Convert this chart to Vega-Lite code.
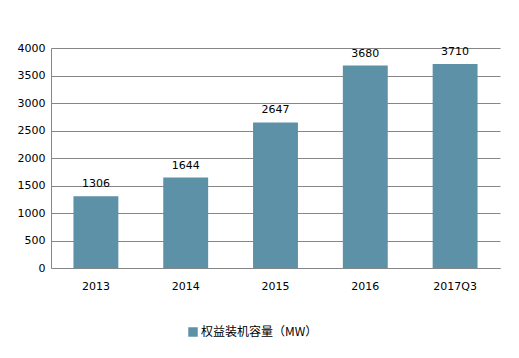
{
  "$schema": "https://vega.github.io/schema/vega-lite/v6.json",
  "autosize": "none",
  "width": 449,
  "height": 220,
  "padding": {"left": 51, "top": 48, "right": 19, "bottom": 90},
  "background": "white",
  "config": {
    "view": {"stroke": null},
    "font": "DejaVu Sans, Noto Sans CJK SC"
  },
  "data": {
    "values": [
      {"year": "2013", "value": 1306, "series": "权益装机容量（MW）"},
      {"year": "2014", "value": 1644, "series": "权益装机容量（MW）"},
      {"year": "2015", "value": 2647, "series": "权益装机容量（MW）"},
      {"year": "2016", "value": 3680, "series": "权益装机容量（MW）"},
      {"year": "2017Q3", "value": 3710, "series": "权益装机容量（MW）"}
    ]
  },
  "encoding": {
    "x": {
      "field": "year", "type": "nominal", "sort": null,
      "scale": {"paddingInner": 0.5, "paddingOuter": 0.25},
      "axis": {
        "title": null, "labelAngle": 0, "ticks": false, "domainColor": "#868686",
        "labelFontSize": 11, "labelColor": "#000000", "labelPadding": 12,
        "labelFont": "DejaVu Sans"
      }
    },
    "y": {
      "field": "value", "type": "quantitative",
      "scale": {"domain": [0, 4000]},
      "axis": {
        "title": null, "values": [0, 500, 1000, 1500, 2000, 2500, 3000, 3500, 4000],
        "format": "d",
        "ticks": false, "domain": true, "domainColor": "#868686",
        "gridColor": "#868686", "gridWidth": 1,
        "labelFontSize": 11, "labelColor": "#000000", "labelPadding": 6,
        "labelFont": "DejaVu Sans"
      }
    }
  },
  "layer": [
    {
      "mark": {"type": "bar", "color": "#5d91a7"},
      "encoding": {
        "color": {
          "field": "series", "type": "nominal",
          "scale": {"range": ["#5d91a7"]},
          "legend": {
            "title": null, "orient": "none", "legendX": 136, "legendY": 278,
            "symbolType": "square", "symbolSize": 90, "labelFontSize": 12,
            "labelColor": "#000000", "labelFont": "Noto Sans CJK SC", "labelOffset": 2
          }
        }
      }
    },
    {
      "mark": {"type": "text", "dy": -12, "fontSize": 11, "color": "#000000", "font": "DejaVu Sans"},
      "encoding": {"text": {"field": "value", "type": "quantitative"}}
    }
  ]
}
